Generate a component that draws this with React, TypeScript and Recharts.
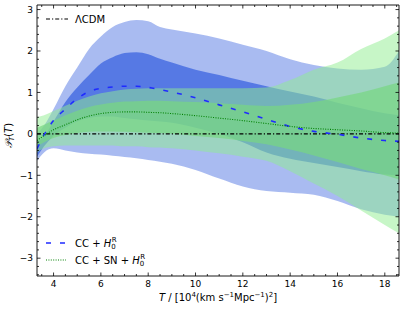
import React from 'react';
import { ComposedChart, Area, Line, XAxis, YAxis, Legend } from 'recharts';

const T = [3.3, 3.6, 4, 4.5, 5, 5.5, 6, 6.5, 7, 7.5, 8, 8.5, 9, 10, 11, 12, 13, 14, 15, 16, 17, 18, 18.6];
const ccMean = [-0.36, -0.02, 0.32, 0.6, 0.85, 1.02, 1.1, 1.13, 1.15, 1.15, 1.12, 1.07, 1.01, 0.87, 0.7, 0.53, 0.35, 0.18, 0.06, -0.01, -0.1, -0.16, -0.18];
const snMean = [-0.16, -0.04, 0.1, 0.22, 0.34, 0.43, 0.49, 0.52, 0.53, 0.53, 0.52, 0.51, 0.49, 0.44, 0.38, 0.32, 0.25, 0.18, 0.13, 0.1, 0.07, 0.03, 0.02];
const lcdm = [0, 0, 0, 0, 0, 0, 0, 0, 0, 0, 0, 0, 0, 0, 0, 0, 0, 0, 0, 0, 0, 0, 0];
const cc2Hi = [0.0, 0.2, 0.6, 1.15, 1.6, 2.05, 2.35, 2.58, 2.7, 2.75, 2.72, 2.58, 2.52, 2.42, 2.3, 2.15, 2.0, 1.8, 1.66, 1.58, 1.55, 1.62, 2.0];
const cc2Lo = [-0.65, -0.45, -0.35, -0.4, -0.45, -0.48, -0.5, -0.53, -0.56, -0.59, -0.63, -0.67, -0.72, -0.87, -1.08, -1.27, -1.38, -1.42, -1.47, -1.62, -1.82, -1.95, -2.0];
const cc1Hi = [-0.2, -0.05, 0.3, 0.77, 1.12, 1.42, 1.7, 1.85, 1.95, 1.97, 1.92, 1.81, 1.72, 1.55, 1.42, 1.28, 1.15, 1.02, 0.9, 0.75, 0.62, 0.5, 0.45];
const cc1Lo = [-0.55, -0.3, -0.05, 0.15, 0.3, 0.38, 0.42, 0.42, 0.38, 0.35, 0.32, 0.3, 0.27, 0.15, 0.0, -0.2, -0.45, -0.6, -0.7, -0.8, -0.9, -0.98, -1.0];
const sn2Hi = [0.4, 0.45, 0.55, 0.68, 0.8, 0.9, 0.98, 1.03, 1.07, 1.09, 1.1, 1.1, 1.1, 1.1, 1.1, 1.1, 1.12, 1.3, 1.55, 1.72, 2.05, 2.3, 2.5];
const sn2Lo = [-0.45, -0.35, -0.3, -0.28, -0.28, -0.28, -0.28, -0.28, -0.3, -0.3, -0.32, -0.33, -0.35, -0.4, -0.47, -0.55, -0.65, -0.9, -1.2, -1.5, -1.85, -2.2, -2.4];
const sn1Hi = [0.15, 0.22, 0.32, 0.45, 0.56, 0.65, 0.71, 0.75, 0.78, 0.79, 0.8, 0.8, 0.79, 0.77, 0.74, 0.7, 0.67, 0.7, 0.77, 0.88, 1.0, 1.15, 1.24];
const sn1Lo = [-0.3, -0.2, -0.1, -0.03, 0.02, 0.05, 0.06, 0.06, 0.05, 0.04, 0.03, 0.02, 0.0, -0.05, -0.1, -0.17, -0.25, -0.38, -0.52, -0.68, -0.85, -1.0, -1.1];

const xMajor = [4, 6, 8, 10, 12, 14, 16, 18];
const xMinor = [3.5, 4.5, 5, 5.5, 6.5, 7, 7.5, 8.5, 9, 9.5, 10.5, 11, 11.5, 12.5, 13, 13.5, 14.5, 15, 15.5, 16.5, 17, 17.5, 18.5];
const yMajor = [-3, -2, -1, 0, 1, 2, 3];
const yMinor = [-3.4, -3.2, -2.8, -2.6, -2.4, -2.2, -1.8, -1.6, -1.4, -1.2, -0.8, -0.6, -0.4, -0.2, 0.2, 0.4, 0.6, 0.8, 1.2, 1.4, 1.6, 1.8, 2.2, 2.4, 2.6, 2.8];

const data = T.map((t, i) => ({
  T: t,
  cc: ccMean[i],
  sn: snMean[i],
  lcdm: lcdm[i],
  cc2: [cc2Lo[i], cc2Hi[i]],
  cc1: [cc1Lo[i], cc1Hi[i]],
  sn2: [sn2Lo[i], sn2Hi[i]],
  sn1: [sn1Lo[i], sn1Hi[i]],
}));

const FONT = 'DejaVu Sans, sans-serif';
const isIn = (arr: number[], v: number) => arr.some((a) => Math.abs(a - v) < 1e-6);
const fmt = (v: number) => (v < 0 ? '\u2212' + Math.abs(v) : String(v));

const xTicks = [...xMajor, ...xMinor].sort((a, b) => a - b);
const yTicks = [...yMajor, ...yMinor].sort((a, b) => a - b);

const BottomTick = (p: any) => {
  const { x, y, payload } = p;
  const major = isIn(xMajor, payload.value);
  return (
    <g>
      <line x1={x} x2={x} y1={y} y2={y - (major ? 3.5 : 2)} stroke="#000" strokeWidth={0.8} />
      {major && (
        <text x={x} y={y + 11} textAnchor="middle" fontSize={9} fontFamily={FONT} fill="#000">
          {fmt(payload.value)}
        </text>
      )}
    </g>
  );
};
const TopTick = (p: any) => {
  const { x, y, payload } = p;
  const major = isIn(xMajor, payload.value);
  return <line x1={x} x2={x} y1={y} y2={y + (major ? 3.5 : 2)} stroke="#000" strokeWidth={0.8} />;
};
const LeftTick = (p: any) => {
  const { x, y, payload } = p;
  const major = isIn(yMajor, payload.value);
  return (
    <g>
      <line x1={x} x2={x + (major ? 3.5 : 2)} y1={y} y2={y} stroke="#000" strokeWidth={0.8} />
      {major && (
        <text x={x - 4} y={y + 3.3} textAnchor="end" fontSize={9} fontFamily={FONT} fill="#000">
          {fmt(payload.value)}
        </text>
      )}
    </g>
  );
};
const RightTick = (p: any) => {
  const { x, y, payload } = p;
  const major = isIn(yMajor, payload.value);
  return <line x1={x} x2={x - (major ? 3.5 : 2)} y1={y} y2={y} stroke="#000" strokeWidth={0.8} />;
};

const XLabel = (p: any) => {
  const vb = p.viewBox || { x: 37, y: 276, width: 362, height: 33 };
  const cx = vb.x + vb.width / 2;
  return (
    <text x={cx} y={vb.y + 25} textAnchor="middle" fontSize={10} fontFamily={FONT} fill="#000">
      <tspan fontStyle="italic">T</tspan>
      <tspan>{' / [10'}</tspan>
      <tspan dy={-4} fontSize={7}>4</tspan>
      <tspan dy={4}>(km s</tspan>
      <tspan dy={-4} fontSize={7}>{'\u22121'}</tspan>
      <tspan dy={4}>Mpc</tspan>
      <tspan dy={-4} fontSize={7}>{'\u22121'}</tspan>
      <tspan dy={4}>)</tspan>
      <tspan dy={-4} fontSize={7}>2</tspan>
      <tspan dy={4}>]</tspan>
    </text>
  );
};

const YLabel = (p: any) => {
  const vb = p.viewBox || { x: 0, y: 5, width: 37, height: 271 };
  const cy = vb.y + vb.height / 2 - 5;
  const cx = 12;
  return (
    <text x={cx} y={cy} transform={`rotate(-90, ${cx}, ${cy})`} textAnchor="middle" fontSize={10} fontFamily={FONT} fill="#000">
      <tspan fontStyle="italic">{'\u{1D4AB}'}</tspan>
      <tspan dy={2} fontSize={7} fontStyle="italic">T</tspan>
      <tspan dy={-2}>(</tspan>
      <tspan fontStyle="italic">T</tspan>
      <tspan>)</tspan>
    </text>
  );
};

const LegendContent = () => (
  <svg width={406} height={309} style={{ position: 'absolute', left: 0, top: 0, pointerEvents: 'none', overflow: 'visible' }}>
    <line x1={46} x2={68} y1={19} y2={19} stroke="#000" strokeWidth={1.1} strokeDasharray="4 2 1.2 2" />
    <text x={75} y={22.5} fontSize={10} fontFamily={FONT} fill="#000">ΛCDM</text>
    <line x1={46} x2={66} y1={243} y2={243} stroke="#1f2bff" strokeWidth={1.6} strokeDasharray="5 9" />
    <text x={75} y={247} fontSize={10} fontFamily={FONT} fill="#000">
      <tspan>CC + </tspan>
      <tspan fontStyle="italic">H</tspan>
      <tspan dy={2} fontSize={7}>0</tspan>
      <tspan dx={-4} dy={-7} fontSize={7}>R</tspan>
    </text>
    <line x1={46} x2={66} y1={260} y2={260} stroke="#008000" strokeWidth={1.1} strokeDasharray="1 1.4" />
    <text x={75} y={264} fontSize={10} fontFamily={FONT} fill="#000">
      <tspan>CC + SN + </tspan>
      <tspan fontStyle="italic">H</tspan>
      <tspan dy={2} fontSize={7}>0</tspan>
      <tspan dx={-4} dy={-7} fontSize={7}>R</tspan>
    </text>
  </svg>
);

export default function App() {
  return (
    <div style={{ position: 'absolute', left: 0, top: 0, width: 406, height: 309, background: '#fff' }}>
      <ComposedChart width={406} height={309} data={data} margin={{ top: 4, right: 6, bottom: 0, left: 0 }}>
        <XAxis
          xAxisId="b"
          dataKey="T"
          type="number"
          domain={[3.3, 18.6]}
          ticks={xTicks}
          interval={0}
          allowDataOverflow
          height={33}
          tickSize={0}
          tickMargin={0}
          tickLine={false}
          axisLine={{ stroke: '#000', strokeWidth: 0.9 }}
          tick={BottomTick}
          label={{ content: XLabel }}
        />
        <XAxis
          xAxisId="t"
          orientation="top"
          dataKey="T"
          type="number"
          domain={[3.3, 18.6]}
          ticks={xTicks}
          interval={0}
          allowDataOverflow
          height={1}
          tickSize={0}
          tickMargin={0}
          tickLine={false}
          axisLine={{ stroke: '#000', strokeWidth: 0.9 }}
          tick={TopTick}
        />
        <YAxis
          yAxisId="l"
          type="number"
          domain={[-3.43, 3.11]}
          ticks={yTicks}
          interval={0}
          allowDataOverflow
          width={37}
          tickSize={0}
          tickMargin={0}
          tickLine={false}
          axisLine={{ stroke: '#000', strokeWidth: 0.9 }}
          tick={LeftTick}
          label={{ content: YLabel }}
        />
        <YAxis
          yAxisId="r"
          orientation="right"
          type="number"
          domain={[-3.43, 3.11]}
          ticks={yTicks}
          interval={0}
          allowDataOverflow
          width={1}
          tickSize={0}
          tickMargin={0}
          tickLine={false}
          axisLine={{ stroke: '#000', strokeWidth: 0.9 }}
          tick={RightTick}
        />
        <Area xAxisId="b" yAxisId="l" type="monotone" dataKey="cc2" stroke="none" fill="#4169e1" fillOpacity={0.45} isAnimationActive={false} />
        <Area xAxisId="b" yAxisId="l" type="monotone" dataKey="cc1" stroke="none" fill="#4169e1" fillOpacity={0.8} isAnimationActive={false} />
        <Area xAxisId="b" yAxisId="l" type="monotone" dataKey="sn2" stroke="none" fill="#90ee90" fillOpacity={0.5} isAnimationActive={false} />
        <Area xAxisId="b" yAxisId="l" type="monotone" dataKey="sn1" stroke="none" fill="rgb(120,215,130)" fillOpacity={0.7} isAnimationActive={false} />
        <Line xAxisId="b" yAxisId="l" type="linear" dataKey="lcdm" stroke="#000" strokeWidth={1.1} strokeDasharray="4 2 1.2 2" dot={false} isAnimationActive={false} />
        <Line xAxisId="b" yAxisId="l" type="monotone" dataKey="cc" stroke="#1f2bff" strokeWidth={1.6} strokeDasharray="5 9" dot={false} isAnimationActive={false} />
        <Line xAxisId="b" yAxisId="l" type="monotone" dataKey="sn" stroke="#008000" strokeWidth={1.1} strokeDasharray="1 1.4" dot={false} isAnimationActive={false} />
        <Legend
          layout="horizontal"
          verticalAlign="middle"
          align="center"
          wrapperStyle={{ left: 0, top: 0, width: 0, height: 0, overflow: 'visible' }}
          content={LegendContent}
        />
      </ComposedChart>
    </div>
  );
}
